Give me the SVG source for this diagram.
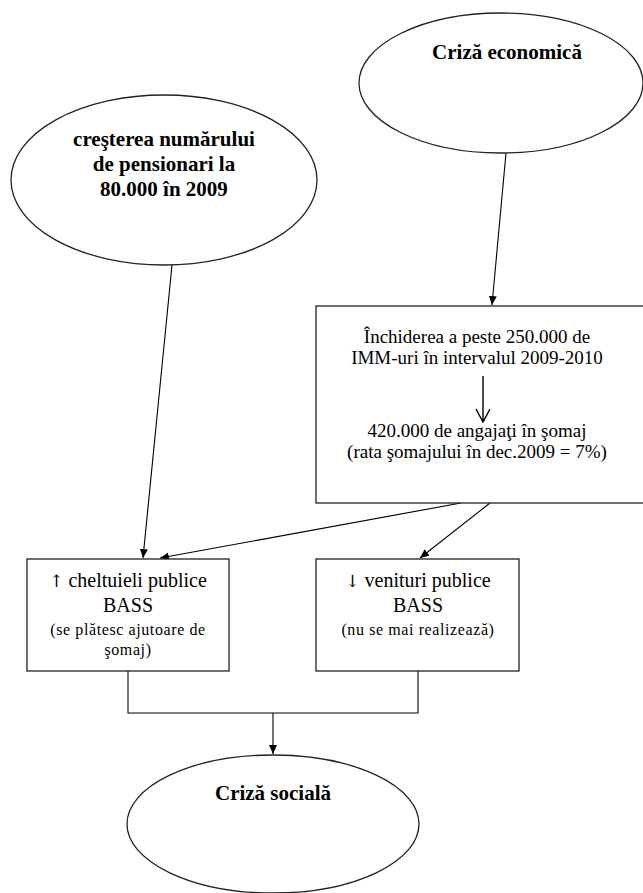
<svg xmlns="http://www.w3.org/2000/svg" width="643" height="893" viewBox="0 0 643 893">
<style>
.shape{fill:#fff;stroke:#222;stroke-width:1.3}
.b{font-family:"Liberation Serif","Times New Roman",serif;font-weight:bold;font-size:21px;fill:#000;text-anchor:middle}
.r{font-family:"Liberation Serif","Times New Roman",serif;font-size:19px;fill:#000;text-anchor:middle}
.s{font-family:"Liberation Serif","Times New Roman",serif;font-size:16px;fill:#000;text-anchor:middle;letter-spacing:0.6px}
.ar{font-family:"DejaVu Serif","DejaVu Sans",serif;fill:#000;font-size:17px}
.conn{fill:none;stroke:#000;stroke-width:1.1}
.inner{fill:none;stroke:#000;stroke-width:1.4}
</style>
<defs>
<marker id="ah" markerWidth="10" markerHeight="10" refX="9" refY="4" orient="auto" markerUnits="userSpaceOnUse">
<path d="M0,0 L9,4 L0,8 Z" fill="#000"/>
</marker>
</defs>
<rect width="643" height="893" fill="#fff"/>
<g id="connectors">
<line class="conn" x1="172" y1="265" x2="143" y2="558" marker-end="url(#ah)"/>
<line class="conn" x1="506" y1="153" x2="492" y2="305" marker-end="url(#ah)"/>
<line class="conn" x1="461" y1="503" x2="160" y2="558" marker-end="url(#ah)"/>
<line class="conn" x1="490" y1="503" x2="420" y2="558" marker-end="url(#ah)"/>
<polyline class="conn" points="128,671 128,713 418,713 418,671"/>
<line class="conn" x1="273" y1="713" x2="273" y2="754" marker-end="url(#ah)"/>
</g>
<g id="criza-economica">
<ellipse class="shape" cx="501" cy="83" rx="142" ry="70"/>
<text class="b" x="507" y="59">Criză economică</text>
</g>
<g id="pensionari">
<ellipse class="shape" cx="164" cy="180" rx="153" ry="85"/>
<text class="b" x="164" y="146">creşterea numărului</text>
<text class="b" x="164" y="171">de pensionari la</text>
<text class="b" x="164" y="196">80.000 în 2009</text>
</g>
<g id="inchiderea">
<rect class="shape" x="316" y="306" width="330" height="197"/>
<text class="r" x="477" y="343">Închiderea a peste 250.000 de</text>
<text class="r" x="477" y="364">IMM-uri în intervalul 2009-2010</text>
<path class="inner" d="M483,376 L483,422 M476,409 L483,422 L490,409"/>
<text class="r" x="477" y="437">420.000 de angajaţi în şomaj</text>
<text class="r" x="477" y="458">(rata şomajului în dec.2009 = 7%)</text>
</g>
<g id="cheltuieli">
<rect class="shape" x="27" y="559" width="202" height="112"/>
<text class="r" x="128" y="587" style="font-size:20px"><tspan class="ar">↑</tspan> cheltuieli publice</text>
<text class="r" x="128" y="612" style="font-size:20px">BASS</text>
<text class="s" x="128" y="635">(se plătesc ajutoare de</text>
<text class="s" x="128" y="655">şomaj)</text>
</g>
<g id="venituri">
<rect class="shape" x="316" y="559" width="203" height="112"/>
<text class="r" x="418" y="587" style="font-size:20px"><tspan class="ar">↓</tspan> venituri publice</text>
<text class="r" x="418" y="612" style="font-size:20px">BASS</text>
<text class="s" x="418" y="635">(nu se mai realizează)</text>
</g>
<g id="criza-sociala">
<ellipse class="shape" cx="273" cy="824" rx="146" ry="69"/>
<text class="b" x="273" y="800">Criză socială</text>
</g>
</svg>
